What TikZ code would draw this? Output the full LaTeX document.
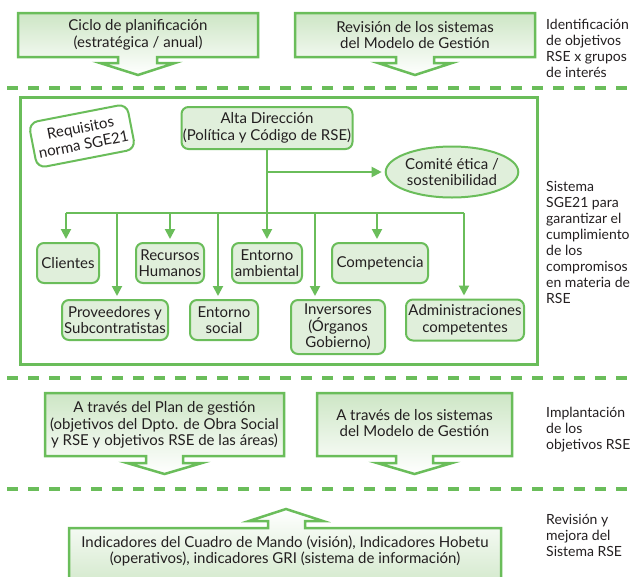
\documentclass[tikz,border=0pt]{standalone}
\usepackage{fontspec}
\setmainfont{Lato}
\usetikzlibrary{shapes.geometric,arrows.meta}
\definecolor{gline}{RGB}{106,189,90}
\definecolor{gfill}{RGB}{224,239,219}
\definecolor{gtop}{RGB}{205,230,197}
\definecolor{txt}{RGB}{35,31,32}
\begin{document}
\begin{tikzpicture}[x=1pt,y=-1pt,
  every node/.style={text=txt,font=\fontsize{15}{16.5}\selectfont},
  rbox/.style={draw=gline, fill=gfill, line width=2pt, rounded corners=7pt, align=center, inner sep=0pt},
  conn/.style={draw=gline, line width=2pt, -{Triangle[length=10pt,width=10pt]}, shorten >=3pt},
  plainline/.style={draw=gline, line width=2pt},
  dline/.style={draw=gline, line width=4pt, dash pattern=on 11pt off 10pt},
  calldown/.style={draw=gline, line width=2.5pt, top color=gtop, bottom color=white},
  callup/.style={draw=gline, line width=2.5pt, top color=white, bottom color=gtop},
  lbl/.style={anchor=west, align=left, inner sep=0pt, font=\fontsize{14}{16}\selectfont},
  intext/.style={align=center, inner sep=0pt}]
\useasboundingbox (0,0) rectangle (632,576);
\clip (0,0) rectangle (632,576);

% ---- top callouts
\draw[calldown] (18,13) -- (258,13) -- (258,57) -- (157,57) -- (157,63) -- (175,63) -- (138,75) -- (100,63) -- (118,63) -- (118,57) -- (18,57) -- cycle;
\node[intext] (ciclo) at (138,35) {Ciclo de planificación\\(estratégica / anual)};
\draw[calldown] (295,13) -- (535,13) -- (535,57) -- (434,57) -- (434,63) -- (452,63) -- (415,75) -- (378,63) -- (396,63) -- (396,57) -- (295,57) -- cycle;
\node[intext] (revsis) at (415,35) {Revisión de los sistemas\\del Modelo de Gestión};
\node[lbl] (lab1) at (546,48) {Identificación\\de objetivos\\RSE x grupos\\de interés};

\draw[dline] (7,88) -- (632,88);

% ---- main frame
\draw[draw=gline, line width=3pt, fill=white] (20,97) rectangle (537,364);
\node[rbox, fill=white, rotate=11, minimum width=100pt, minimum height=46pt, rounded corners=9pt, font=\fontsize{15}{17}\selectfont] (req) at (82,136) {Requisitos\\norma SGE21};
\node[rbox, minimum width=171pt, minimum height=42pt] (alta) at (267,128) {Alta Dirección\\(Política y Código de RSE)};
\node[draw=gline, fill=gfill, line width=2pt, ellipse, minimum width=117pt, minimum height=51pt, inner sep=0pt, align=center] (comite) at (452,172) {Comité ética /\\sostenibilidad};

\node[rbox, minimum width=62pt, minimum height=40pt] (cli) at (68,263) {Clientes};
\node[rbox, minimum width=68pt, minimum height=40pt] (rh) at (170,263) {Recursos\\Humanos};
\node[rbox, minimum width=70pt, minimum height=40pt] (ea) at (267,263) {Entorno\\ambiental};
\node[rbox, minimum width=96pt, minimum height=40pt] (comp) at (380,263) {Competencia};
\node[rbox, minimum width=106pt, minimum height=40pt] (prov) at (115,320) {Proveedores y\\Subcontratistas};
\node[rbox, minimum width=68pt, minimum height=40pt] (es) at (224,320) {Entorno\\social};
\node[rbox, minimum width=94pt, minimum height=54pt] (inv) at (338,327) {Inversores\\(Órganos\\Gobierno)};
\node[rbox, minimum width=118pt, minimum height=41pt] (adm) at (465,320) {Administraciones\\competentes};

\coordinate (hl) at (0,213);
\draw[conn] (alta.south) -- (ea.north);
\draw[conn] (alta.south |- comite.west) -- (comite.west);
\draw[plainline] ([xshift=-2pt]cli.north |- hl) -- ([xshift=-1pt]adm.north |- hl);
\draw[conn] ([xshift=-2pt]cli.north |- hl) -- ([xshift=-2pt]cli.north);
\draw[conn] (rh.north |- hl) -- (rh.north);
\draw[conn] ([xshift=-3pt]comp.north |- hl) -- ([xshift=-3pt]comp.north);
\draw[conn] ([xshift=2pt]prov.north |- hl) -- ([xshift=2pt]prov.north);
\draw[conn] ([xshift=-6pt]es.north |- hl) -- ([xshift=-6pt]es.north);
\draw[conn] ([xshift=-23pt]inv.north |- hl) -- ([xshift=-23pt]inv.north);
\draw[conn] ([xshift=-1pt]adm.north |- hl) -- ([xshift=-1pt]adm.north);

\node[lbl] (lab2) at (546,242) {Sistema\\SGE21 para\\garantizar el\\cumplimiento\\de los\\compromisos\\en materia de\\RSE};

\draw[dline] (7,378) -- (632,378);

% ---- implementation callouts
\draw[calldown] (45,393) -- (284,393) -- (284,456) -- (183,456) -- (183,463) -- (202,463) -- (164.5,474) -- (127,463) -- (146,463) -- (146,456) -- (45,456) -- cycle;
\node[intext] (plan) at (164.5,425) {A través del Plan de gestión\\(objetivos del Dpto. de Obra Social\\y RSE y objetivos RSE de las áreas)};
\draw[calldown] (317,393) -- (512,393) -- (512,456) -- (433,456) -- (433,463) -- (452,463) -- (414.5,474) -- (377,463) -- (396,463) -- (396,456) -- (317,456) -- cycle;
\node[intext] (sist) at (414.5,423) {A través de los sistemas\\del Modelo de Gestión};
\node[lbl] (lab3) at (546,430) {Implantación\\de los\\objetivos RSE};

\draw[dline] (7,489) -- (632,489);

% ---- bottom callout
\draw[callup] (69,528) -- (268,528) -- (268,521) -- (249,521) -- (286,509) -- (323,521) -- (305,521) -- (305,528) -- (501,528) -- (501,595) -- (69,595) -- cycle;
\node[intext] (ind) at (285,551) {Indicadores del Cuadro de Mando (visión), Indicadores Hobetu\\(operativos), indicadores GRI (sistema de información)};
\node[lbl] (lab4) at (546,535.5) {Revisión y\\mejora del\\Sistema RSE};
\end{tikzpicture}
\end{document}
